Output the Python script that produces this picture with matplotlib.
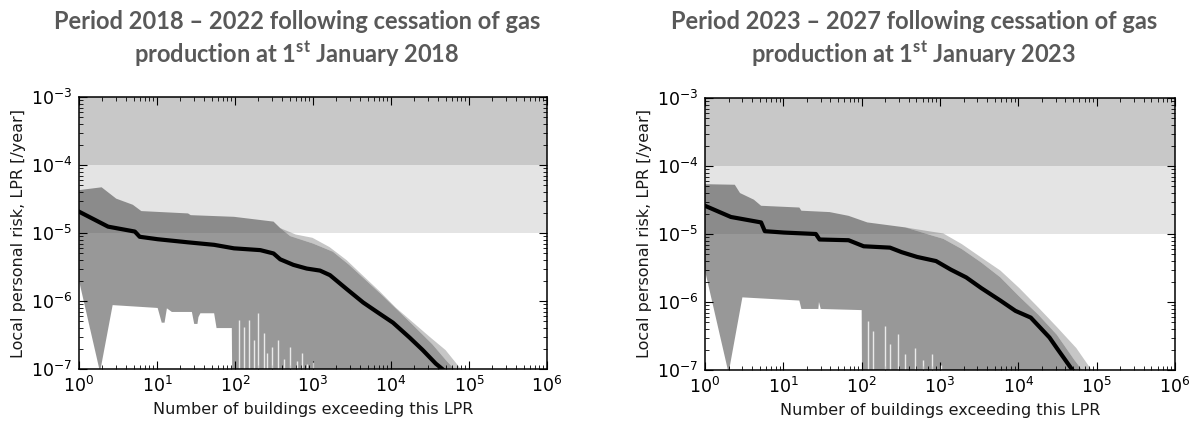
import numpy as np
import matplotlib
matplotlib.use('Agg')
import matplotlib.pyplot as plt

plt.rcParams['mathtext.fontset'] = 'dejavusans'
plt.rcParams['mathtext.bf'] = 'Lato:bold'
plt.rcParams['mathtext.rm'] = 'Lato:bold'
plt.rcParams['mathtext.it'] = 'Lato:bold'

# --- dane (lewy: 2018-2022, prawy: 2023-2027) ---
titles = ["Period 2018 \u2013 2022 following cessation of gas\nproduction at 1$^{\\mathbf{st}}$ January 2018",
          "Period 2023 \u2013 2027 following cessation of gas\nproduction at 1$^{\\mathbf{st}}$ January 2023"]

# mediana (czarna linia)
med_n_a = [1, 2.36, 5.2, 6, 10.2, 24.7, 54, 97, 211, 312, 380, 560, 830, 1230, 1650,
           2700, 4400, 6500, 10600, 17300, 25500, 37500, 45500, 70000]
med_v_a = [2.06e-5, 1.24e-5, 1.05e-5, 8.8e-6, 8.1e-6, 7.3e-6, 6.7e-6, 5.95e-6, 5.6e-6,
           5.0e-6, 4.1e-6, 3.4e-6, 3.0e-6, 2.8e-6, 2.4e-6, 1.5e-6, 9.5e-7, 7.0e-7,
           4.8e-7, 2.9e-7, 1.9e-7, 1.2e-7, 1.0e-7, 6e-8]
med_n_b = [1, 2.14, 5.2, 5.8, 10.2, 26, 29, 68, 106, 230, 325, 510, 890, 1370, 2160,
           3370, 5900, 9200, 14400, 25000, 31000, 49000, 70000]
med_v_b = [2.6e-5, 1.78e-5, 1.48e-5, 1.1e-5, 1.05e-5, 1.0e-5, 8.3e-6, 8.1e-6, 6.6e-6,
           6.3e-6, 5.4e-6, 4.6e-6, 4.0e-6, 3.0e-6, 2.3e-6, 1.6e-6, 1.05e-6, 7.4e-7,
           5.9e-7, 3.0e-7, 2.1e-7, 1.0e-7, 6e-8]

# górna granica pasma (rdzeń)
up_n_a = [1, 1.95, 3.0, 4.9, 6.3, 25, 27, 97, 312, 380, 510, 1000, 1800, 2900, 4800,
          7800, 12700, 20900, 34000, 52000, 65000]
up_v_a = [4.27e-5, 4.7e-5, 3.2e-5, 2.6e-5, 2.1e-5, 1.94e-5, 1.83e-5, 1.73e-5, 1.47e-5,
          1.18e-5, 9.0e-6, 7.0e-6, 5.3e-6, 3.4e-6, 2.0e-6, 1.2e-6, 7.0e-7, 4.0e-7,
          2.3e-7, 1.3e-7, 1e-7]
up_n_b = [1, 2.4, 2.8, 4.2, 5.2, 16, 17, 39, 68, 118, 360, 790, 1100, 1900, 3370,
          5900, 10300, 18000, 31000, 52000, 65000]
up_v_b = [5.4e-5, 5.3e-5, 4.0e-5, 3.2e-5, 2.6e-5, 2.45e-5, 2.2e-5, 2.1e-5, 1.85e-5,
          1.48e-5, 1.25e-5, 9.5e-6, 8.5e-6, 6.0e-6, 3.8e-6, 2.3e-6, 1.2e-6, 6.5e-7,
          3.3e-7, 1.4e-7, 1e-7]

# zewnętrzna "poszarpana" krawędź
fr_n_a = [380, 600, 985, 1630, 2690, 4300, 7100, 11500, 18500, 31000, 50000, 75000, 90000]
fr_v_a = [1.18e-5, 9.5e-6, 8.5e-6, 6.2e-6, 4.0e-6, 2.4e-6, 1.4e-6, 8.0e-7,
          5.0e-7, 3.0e-7, 1.9e-7, 1.07e-7, 8e-8]
fr_n_b = [360, 790, 1100, 1900, 3370, 5900, 10300, 18000, 31000, 55000, 86000, 100000]
fr_v_b = [1.25e-5, 1.08e-5, 1.02e-5, 7.1e-6, 4.5e-6, 2.9e-6, 1.6e-6, 8.3e-7, 4.3e-7,
          2.1e-7, 1e-7, 8e-8]

# dolna granica pasma
low_n_a = [1, 1.86, 2.7, 10.2, 11.5, 12.5, 13.4, 15.5, 28, 30, 33, 34, 36, 54, 58, 91, 92, 90000]
low_v_a = [2e-6, 9e-8, 8.7e-7, 7.9e-7, 4.8e-7, 4.8e-7, 7.8e-7, 6.9e-7, 6.9e-7, 4.6e-7,
           4.6e-7, 5.8e-7, 6.6e-7, 6.6e-7, 4.0e-7, 4.0e-7, 9e-8, 8e-8]
low_n_b = [1, 2.0, 3.0, 16, 17, 28, 28.5, 30, 100, 101, 100000]
low_v_b = [2.9e-6, 9e-8, 1.17e-6, 1.05e-6, 7.9e-7, 7.9e-7, 1.0e-6, 7.9e-7, 7.6e-7, 9e-8, 8e-8]

# białe prześwity przy dolnej krawędzi
gap_n_a = [112, 130, 150, 175, 200, 233, 260, 300, 360, 420, 510, 620, 720, 830, 1000]
gap_v_a = [5.3e-7, 4.2e-7, 5.3e-7, 2.7e-7, 6.6e-7, 3.4e-7, 1.7e-7, 2.1e-7, 2.7e-7,
           1.4e-7, 2.1e-7, 1.3e-7, 1.7e-7, 1.2e-7, 1.25e-7]
gap_n_b = [119, 140, 196, 232, 290, 362, 478, 600, 790, 1040]
gap_v_b = [5.3e-7, 3.8e-7, 4.5e-7, 2.4e-7, 3.4e-7, 1.7e-7, 2.1e-7, 1.4e-7, 1.7e-7, 1.2e-7]

panels = [
    (med_n_a, med_v_a, up_n_a, up_v_a, fr_n_a, fr_v_a, low_n_a, low_v_a, gap_n_a, gap_v_a),
    (med_n_b, med_v_b, up_n_b, up_v_b, fr_n_b, fr_v_b, low_n_b, low_v_b, gap_n_b, gap_v_b),
]

W, H = 1196, 422
fig = plt.figure(figsize=(W / 100, H / 100), dpi=100)
axes_px = [(79, 97, 468, 272), (705, 98, 470, 272)]
title_x = [297, 914]

for i, (ax_px, data) in enumerate(zip(axes_px, panels)):
    mn, mv, un, uv, fn, fv, ln, lv, gn, gv = data
    x0, y0, w, h = ax_px
    ax = fig.add_axes([x0 / W, (H - y0 - h) / H, w / W, h / H])
    ax.set_xscale('log')
    ax.set_yscale('log')

    # strefy ryzyka
    ax.axhspan(1e-4, 1e-3, color='#c8c8c8', lw=0, zorder=0)
    ax.axhspan(1e-5, 1e-4, color='#e4e4e4', lw=0, zorder=0)

    # rdzeń pasma
    px = np.r_[un, ln[::-1]]
    py = np.r_[uv, lv[::-1]]
    ax.fill(px, py, color='#333333', alpha=0.5, lw=0, zorder=1)

    # rozmyta krawędź
    un_arr = np.array(un)
    keep = un_arr >= fn[0]
    ex = np.r_[fn, un_arr[keep][::-1]]
    ey = np.r_[fv, np.array(uv)[keep][::-1]]
    ax.fill(ex, ey, color='#333333', alpha=0.28, lw=0, zorder=1)

    # prześwity
    ax.vlines(gn, 5e-8, gv, color='white', lw=1.0, alpha=0.8, zorder=2)

    ax.plot(mn, mv, color='black', lw=3, zorder=3)

    ax.set_xlim(1, 1e6)
    ax.set_ylim(1e-7, 1e-3)
    ax.tick_params(which='both', direction='in', top=True, right=True, colors='black')
    ax.tick_params(which='major', length=5.5, width=0.8, labelsize=12.5, pad=5)
    ax.tick_params(which='minor', length=3, width=0.6)
    for s in ax.spines.values():
        s.set_linewidth(1.1)
    ax.set_xlabel('Number of buildings exceeding this LPR', fontsize=11.5, color='#1a1a1a', labelpad=4)
    ax.set_ylabel('Local personal risk, LPR [/year]', fontsize=11.5, color='#1a1a1a', labelpad=3)

    fig.text(title_x[i] / W, 1 - 39 / H, titles[i], ha='center', va='center',
             fontsize=17, fontweight='bold', family='Lato', color='#595959',
             linespacing=1.3, math_fontfamily='custom')

fig.savefig('out.png', dpi=100)
